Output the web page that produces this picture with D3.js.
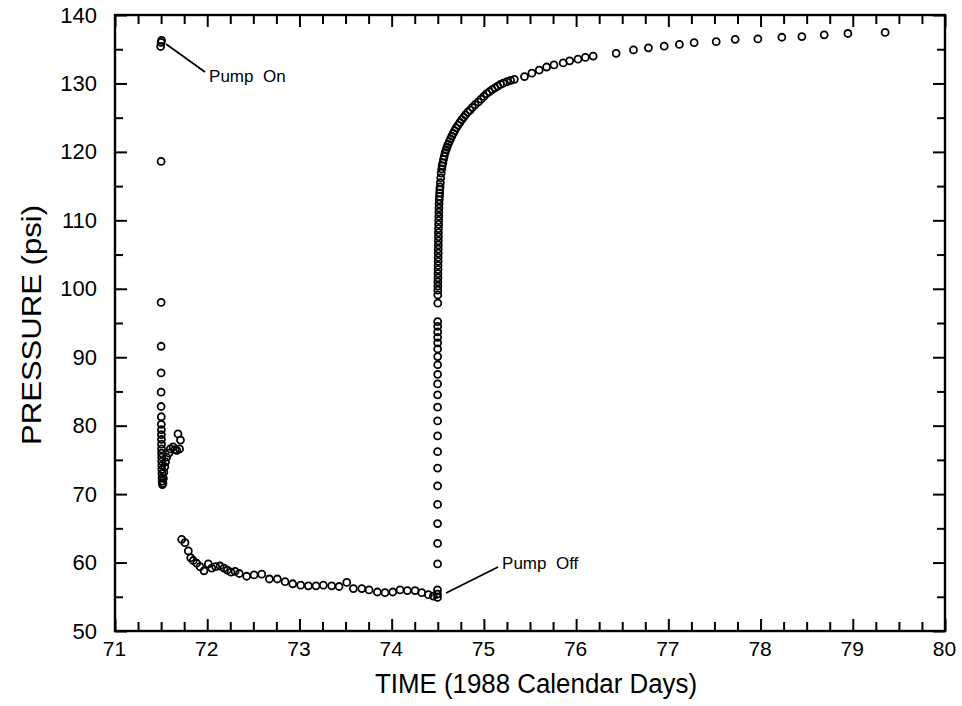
<!DOCTYPE html>
<html>
<head>
<meta charset="utf-8">
<script src="https://cdn.jsdelivr.net/npm/d3@7"></script>
<style>
  html, body { margin: 0; padding: 0; background: #fff; }
  svg { display: block; }
  .lbl { font-family: "Liberation Sans", Arial, sans-serif; fill: #000; }
</style>
</head>
<body>
<svg id="chart" width="962" height="706"></svg>
<script>
// Pressure record: pump start, drawdown, pump stop and recovery
const pumpOnDays = [71.495, 71.500, 71.505, 71.500, 71.500, 71.500, 71.500, 71.500, 71.500, 71.502,
  71.502, 71.503, 71.503, 71.504, 71.504, 71.505, 71.505, 71.506, 71.506, 71.507,
  71.508, 71.509, 71.510, 71.512, 71.514, 71.520, 71.525, 71.530, 71.540, 71.548,
  71.560, 71.585, 71.600, 71.630, 71.650, 71.670, 71.683, 71.710, 71.700];
const pumpOnPsi = [135.4, 136.0, 136.3, 118.6, 98.0, 91.6, 87.7, 84.9, 82.8, 81.3,
  80.2, 79.4, 78.7, 78.0, 77.3, 76.6, 76.0, 75.4, 74.8, 74.2,
  73.6, 73.0, 72.4, 71.9, 71.4, 71.6, 72.3, 73.2, 74.0, 74.7,
  75.4, 76.0, 76.6, 76.9, 76.5, 76.4, 78.8, 77.9, 76.6];

const drawdownDays = [71.723, 71.759, 71.795, 71.821, 71.849, 71.886, 71.922, 71.965, 72.012, 72.049,
  72.092, 72.139, 72.182, 72.218, 72.258, 72.302, 72.348, 72.428, 72.508, 72.591,
  72.674, 72.760, 72.844, 72.927, 73.014, 73.097, 73.180, 73.259, 73.350, 73.430,
  73.513, 73.585, 73.676, 73.755, 73.845, 73.928, 74.012, 74.091, 74.170, 74.254,
  74.326, 74.398, 74.452, 74.497, 74.497, 74.497];
const drawdownPsi = [63.4, 62.9, 61.7, 60.7, 60.3, 59.9, 59.4, 58.8, 59.8, 59.2,
  59.4, 59.5, 59.2, 58.9, 58.6, 58.7, 58.4, 58.0, 58.2, 58.3,
  57.6, 57.6, 57.2, 56.9, 56.7, 56.6, 56.6, 56.7, 56.6, 56.5,
  57.1, 56.2, 56.2, 56.0, 55.7, 55.6, 55.7, 56.0, 55.9, 55.9,
  55.6, 55.3, 55.1, 56.0, 55.4, 54.9];

const recoveryDays = [74.498, 74.498, 74.498, 74.498, 74.498, 74.498, 74.498, 74.498, 74.498, 74.498,
  74.498, 74.498, 74.499, 74.499, 74.499, 74.499, 74.499, 74.499, 74.499, 74.499,
  74.499, 74.500, 74.500,
  74.500, 74.501, 74.501, 74.502, 74.502, 74.503, 74.503, 74.504, 74.504, 74.505,
  74.505, 74.506, 74.506, 74.507, 74.507, 74.508, 74.509, 74.510, 74.511, 74.512,
  74.513, 74.514, 74.516, 74.518,
  74.520, 74.522, 74.525, 74.528, 74.532, 74.537, 74.542, 74.548, 74.555, 74.562,
  74.570, 74.580, 74.590, 74.600, 74.612, 74.625, 74.638, 74.652, 74.667, 74.682,
  74.700, 74.720, 74.740, 74.760, 74.780, 74.800, 74.825, 74.850, 74.875, 74.905,
  74.940, 74.970, 75.000, 75.030, 75.060, 75.090, 75.120, 75.150, 75.180, 75.210,
  75.250, 75.290, 75.330,
  75.440, 75.520, 75.600, 75.680, 75.760, 75.860, 75.930, 76.020, 76.100, 76.185,
  76.434, 76.622, 76.784, 76.955, 77.120, 77.280, 77.519, 77.725, 77.971, 78.231,
  78.448, 78.690, 78.947, 79.351];
const recoveryPsi = [59.8, 62.8, 65.7, 68.5, 71.2, 73.8, 76.2, 78.5, 80.7, 82.7,
  84.5, 86.1, 87.5, 88.9, 90.1, 91.2, 92.1, 92.9, 93.7, 94.5,
  95.2, 97.9, 99.1,
  99.8, 100.4, 101.0, 101.6, 102.2, 102.8, 103.4, 104.0, 104.6, 105.2,
  105.8, 106.4, 107.0, 107.6, 108.2, 108.8, 109.4, 110.0, 110.6, 111.2,
  111.8, 112.4, 113.0, 113.5,
  114.0, 114.5, 114.9, 115.5, 116.2, 116.9, 117.5, 118.0, 118.4, 118.9,
  119.4, 119.9, 120.3, 120.7, 121.1, 121.5, 121.9, 122.3, 122.7, 123.1,
  123.5, 123.9, 124.3, 124.7, 125.05, 125.4, 125.8, 126.1, 126.5, 126.9,
  127.3, 127.7, 128.1, 128.5, 128.8, 129.1, 129.35, 129.6, 129.85, 130.05,
  130.25, 130.45, 130.6,
  131.0, 131.5, 131.95, 132.4, 132.7, 133.0, 133.3, 133.55, 133.8, 134.0,
  134.4, 134.9, 135.2, 135.45, 135.7, 135.95, 136.1, 136.45, 136.5, 136.75,
  136.85, 137.1, 137.3, 137.45];

const xDomain = [71, 80];
const yDomain = [50, 140];
const xMajorTicks = [71, 72, 73, 74, 75, 76, 77, 78, 79, 80];
const yMajorTicks = [50, 60, 70, 80, 90, 100, 110, 120, 130, 140];

// leader lines run from near the event point to the label, in data units
const annotations = [
  { text: "Pump  On",  from: [71.553, 135.76], to: [71.976, 131.67], label: [72.02, 130.2] },
  { text: "Pump  Off", from: [74.590, 55.55],  to: [75.154, 59.35],  label: [75.197, 59.05] }
];

const svg = d3.select("#chart");
const m = { left: 115, top: 15, right: 945, bottom: 631 };

const x = d3.scaleLinear().domain(xDomain).range([m.left, m.right]);
const y = d3.scaleLinear().domain(yDomain).range([m.bottom, m.top]);

const xMinor = d3.range(71, 80.001, 0.25).filter(v => Math.abs(v - Math.round(v)) > 1e-6);
const yMinor = d3.range(55, 140, 10);

function styleAxis(g) {
  g.select(".domain").remove();
  g.selectAll(".tick line").attr("stroke", "#000").attr("stroke-width", 2);
}

// bottom axis: labelled whole days, unlabelled quarter-day ticks, all pointing inward
svg.append("g").attr("transform", `translate(0,${m.bottom})`)
  .call(d3.axisBottom(x).tickValues(xMajorTicks).tickSizeInner(-12).tickSizeOuter(0).tickPadding(10).tickFormat(d3.format("d")))
  .call(styleAxis)
  .call(g => g.selectAll("text").attr("class", "lbl").attr("font-size", 21).attr("dx", -1));
svg.append("g").attr("transform", `translate(0,${m.bottom})`)
  .call(d3.axisBottom(x).tickValues(xMinor).tickSizeInner(-9).tickSizeOuter(0).tickFormat(""))
  .call(styleAxis);

// top axis
svg.append("g").attr("transform", `translate(0,${m.top})`)
  .call(d3.axisTop(x).tickValues(xMajorTicks).tickSizeInner(-12).tickSizeOuter(0).tickFormat(""))
  .call(styleAxis);
svg.append("g").attr("transform", `translate(0,${m.top})`)
  .call(d3.axisTop(x).tickValues(xMinor).tickSizeInner(-9).tickSizeOuter(0).tickFormat(""))
  .call(styleAxis);

// left axis
svg.append("g").attr("transform", `translate(${m.left},0)`)
  .call(d3.axisLeft(y).tickValues(yMajorTicks).tickSizeInner(-12).tickSizeOuter(0).tickPadding(18).tickFormat(d3.format("d")))
  .call(styleAxis)
  .call(g => g.selectAll("text").attr("class", "lbl").attr("font-size", 22));
svg.append("g").attr("transform", `translate(${m.left},0)`)
  .call(d3.axisLeft(y).tickValues(yMinor).tickSizeInner(-8).tickSizeOuter(0).tickFormat(""))
  .call(styleAxis);

// right axis
svg.append("g").attr("transform", `translate(${m.right},0)`)
  .call(d3.axisRight(y).tickValues(yMajorTicks).tickSizeInner(-12).tickSizeOuter(0).tickFormat(""))
  .call(styleAxis);
svg.append("g").attr("transform", `translate(${m.right},0)`)
  .call(d3.axisRight(y).tickValues(yMinor).tickSizeInner(-8).tickSizeOuter(0).tickFormat(""))
  .call(styleAxis);

// frame
svg.append("rect")
  .attr("x", m.left).attr("y", m.top)
  .attr("width", m.right - m.left).attr("height", m.bottom - m.top)
  .attr("fill", "none").attr("stroke", "#000").attr("stroke-width", 2.4);

// axis titles
svg.append("text")
  .attr("class", "lbl")
  .attr("x", 536).attr("y", 693)
  .attr("text-anchor", "middle").attr("font-size", 27)
  .attr("textLength", 322).attr("lengthAdjust", "spacingAndGlyphs")
  .text("TIME (1988 Calendar Days)");
svg.append("text")
  .attr("class", "lbl")
  .attr("transform", "translate(41,325) rotate(-90)")
  .attr("text-anchor", "middle").attr("font-size", 28)
  .attr("textLength", 240).attr("lengthAdjust", "spacingAndGlyphs")
  .text("PRESSURE (psi)");

// data points, hollow circles
const points = []
  .concat(pumpOnDays.map((d, i) => [d, pumpOnPsi[i]]))
  .concat(drawdownDays.map((d, i) => [d, drawdownPsi[i]]))
  .concat(recoveryDays.map((d, i) => [d, recoveryPsi[i]]));

svg.append("g")
  .selectAll("circle")
  .data(points)
  .join("circle")
  .attr("cx", d => x(d[0]))
  .attr("cy", d => y(d[1]))
  .attr("r", 3.5)
  .attr("fill", "none")
  .attr("stroke", "#000")
  .attr("stroke-width", 1.8);

// event annotations
const ann = svg.append("g");
annotations.forEach(a => {
  ann.append("line")
    .attr("x1", x(a.from[0])).attr("y1", y(a.from[1]))
    .attr("x2", x(a.to[0])).attr("y2", y(a.to[1]))
    .attr("stroke", "#000").attr("stroke-width", 1.7);
  ann.append("text")
    .attr("class", "lbl")
    .attr("x", x(a.label[0])).attr("y", y(a.label[1]))
    .attr("font-size", 17)
    .attr("xml:space", "preserve")
    .style("white-space", "pre")
    .text(a.text);
});
</script>
</body>
</html>
